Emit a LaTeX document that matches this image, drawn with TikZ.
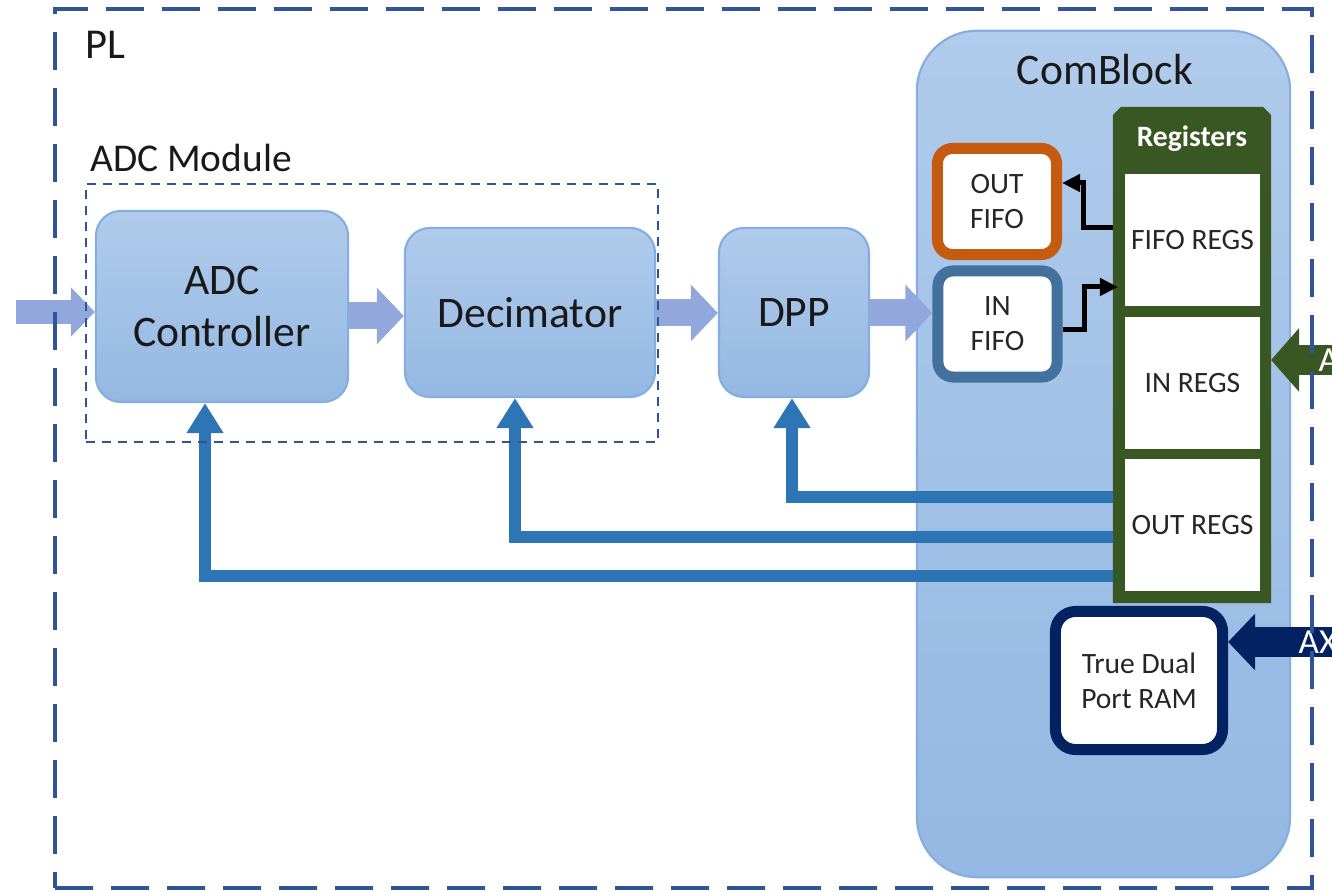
\documentclass[tikz,border=0pt]{standalone}
\usepackage{fontspec}
\setmainfont{Carlito}
\usetikzlibrary{arrows.meta}

\definecolor{plblue}{RGB}{47,85,151}
\definecolor{fbblue}{RGB}{46,117,182}
\definecolor{lav}{RGB}{146,168,220}
\definecolor{blktop}{RGB}{176,203,235}
\definecolor{blkbot}{RGB}{148,184,227}
\definecolor{blkedge}{RGB}{132,174,224}
\definecolor{reggreen}{RGB}{56,87,35}
\definecolor{outorange}{RGB}{197,90,17}
\definecolor{insteel}{RGB}{65,113,156}
\definecolor{ramnavy}{RGB}{4,33,98}

\begin{document}
\begin{tikzpicture}[x=0.01cm, y=-0.01cm, >=Latex,
  blk/.style={draw=blkedge, line width=0.6pt, rounded corners=0.25cm,
    top color=blktop, bottom color=blkbot, align=center, inner sep=0pt,
    text=black!90, font=\fontsize{12.4}{15}\selectfont},
  small/.style={font=\fontsize{8.4}{10}\selectfont, text=black!85},
  fifo/.style={small, fill=white, line width=0.11cm, rounded corners=0.15cm,
    minimum width=1.19cm, minimum height=1.06cm, align=center, inner sep=0pt},
  cell/.style={small, fill=white, minimum width=1.35cm, minimum height=1.31cm,
    inner sep=0pt},
  sig/.style={line width=0.05cm, -{Triangle[length=0.18cm,width=0.17cm]}},
  flow/.style={draw=lav, line width=0.27cm, -{Triangle[length=0.27cm,width=0.55cm]}},
  fb/.style={draw=fbblue, line width=0.12cm, -{Triangle[length=0.3cm,width=0.35cm]}},
  axi/.style={text=white, anchor=west, inner sep=0pt, font=\fontsize{10}{12}\selectfont}]
  \useasboundingbox (0,0) rectangle (1332,892);

  % ComBlock and the processing chain
  \node[blk, rounded corners=0.6cm, minimum width=3.73cm, minimum height=8.46cm]
    (comblock) at (1103.5,454) {};
  \node[font=\fontsize{12.4}{15}\selectfont, text=black!90] (comblbl) at (1105,70) {ComBlock};
  \node[blk, minimum width=2.52cm, minimum height=1.91cm] (adc) at (222,306.5) {ADC\\Controller};
  \node[blk, minimum width=2.50cm, minimum height=1.69cm] (dec) at (530,312.5) {Decimator};
  \node[blk, minimum width=1.50cm, minimum height=1.69cm] (dpp) at (794,312.5) {DPP};

  % register bank
  \node[minimum width=1.58cm, minimum height=4.96cm, inner sep=0pt, outer sep=0pt]
    (regs) at (1192,355) {};
  \fill[reggreen] (regs.south west) -- ([yshift=-0.08cm]regs.north west)
    -- ([xshift=0.08cm]regs.north west) -- ([xshift=-0.08cm]regs.north east)
    -- ([yshift=-0.08cm]regs.north east) -- (regs.south east) -- cycle;
  \node[font=\fontsize{8.4}{10}\selectfont\bfseries, text=white] (reghead) at (1192,139) {Registers};
  \foreach \nm/\y/\txt in {fiforegs/240/FIFO REGS, inregs/383/IN REGS, outregs/525/OUT REGS}
    \node[cell] (\nm) at (1192.5,\y) {\txt};

  \node[fifo, draw=outorange] (outfifo) at (997,201.5) {OUT\\FIFO};
  \node[fifo, draw=insteel] (infifo) at (997.5,324) {IN\\FIFO};
  \node[fifo, draw=ramnavy, minimum width=1.67cm, minimum height=1.38cm,
    rounded corners=0.2cm] (ram) at (1139,680.5) {True Dual\\Port RAM};

  \draw[sig] (regs.west |- 0,228) -- ++(-0.29cm,0) |- (outfifo.east |- 0,183);
  \draw[sig, shorten >=-0.05cm] (infifo.east |- 0,330) -- ++(0.22cm,0) |- (regs.west |- 0,287);

  % data path
  \coordinate (inpt) at (16,312);
  \draw[flow, line width=0.24cm, -{Triangle[length=0.24cm,width=0.48cm]}]
    (inpt) -- (adc.west |- 0,312);
  \draw[flow] (adc.east |- 0,316) -- (dec.west |- 0,316);
  \draw[flow] (dec.east |- 0,313) -- (dpp.west |- 0,313);
  \draw[flow] (dpp.east |- 0,313) -- (infifo.west |- 0,313);

  % configuration from OUT REGS
  \foreach \y/\x/\dst in {497/792/dpp, 537/515/dec, 576/205/adc}
    \draw[fb] (regs.west |- 0,\y) -| (\dst.south -| \x,0);

  % AXI ports
  \begin{scope}
    \clip (0,0) rectangle (1332,892);
    \coordinate (axiregs) at (1360,360);
    \draw[draw=reggreen, line width=0.3cm, -{Triangle[length=0.28cm,width=0.62cm]}]
      (axiregs) -- (regs.east |- axiregs);
    \node[axi] (axigreen) at (1318,360) {AXI};
    \coordinate (axiram) at (1360,642);
    \draw[draw=ramnavy, line width=0.3cm, -{Triangle[length=0.27cm,width=0.55cm]}]
      (axiram) -- (ram.east |- axiram);
    \node[axi] (axinavy) at (1298,642) {AXI};
  \end{scope}

  % frames
  \node[draw=plblue, line width=0.7pt, dash pattern=on 0.09cm off 0.07cm,
    minimum width=5.72cm, minimum height=2.58cm, inner sep=0pt] (adcmod) at (372,313) {};
  \node[font=\fontsize{11.2}{13}\selectfont, text=black!90] (adcmodlbl) at (191,158) {ADC Module};
  \node[draw=plblue, line width=0.04cm, dash pattern=on 0.38cm off 0.18cm,
    minimum width=12.57cm, minimum height=8.79cm, inner sep=0pt] (pl) at (683.5,448.5) {};
  \node[font=\fontsize{12.1}{14}\selectfont, text=black!90] (pllbl) at (105,45) {PL};
\end{tikzpicture}
\end{document}
